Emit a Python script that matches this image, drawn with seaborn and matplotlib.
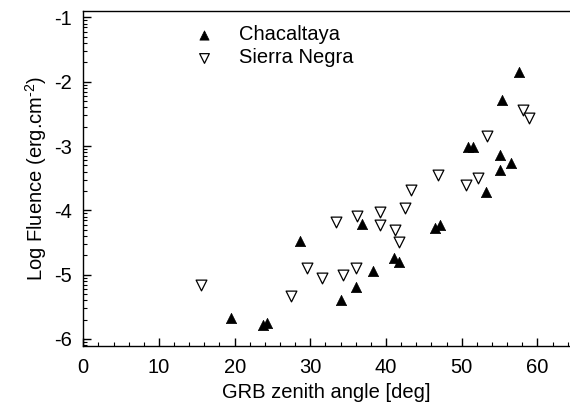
import numpy as np
import pandas as pd
import seaborn as sns
import matplotlib.pyplot as plt
from matplotlib.ticker import FixedLocator, MultipleLocator

# Chacaltaya (filled up-triangles)
chac_angle = [19.5, 23.8, 24.3, 28.6, 34.1, 36.0, 36.8, 38.3, 41.0, 41.7,
              46.5, 47.1, 50.8, 51.5, 53.2, 55.1, 55.1, 56.5, 55.3, 57.6]
chac_logf = [-5.68, -5.79, -5.76, -4.48, -5.40, -5.20, -4.21, -4.95, -4.74, -4.80,
             -4.27, -4.23, -3.01, -3.01, -3.71, -3.14, -3.37, -3.27, -2.29, -1.85]

# Sierra Negra (open down-triangles)
sn_angle = [15.6, 27.4, 29.5, 31.5, 33.4, 34.3, 36.0, 36.1, 39.2, 39.2,
            41.2, 41.7, 42.5, 43.3, 46.8, 50.6, 52.1, 53.4, 58.1, 58.9]
sn_logf = [-5.16, -5.33, -4.89, -5.06, -4.18, -5.00, -4.90, -4.09, -4.02, -4.23,
           -4.31, -4.50, -3.97, -3.69, -3.45, -3.61, -3.50, -2.84, -2.44, -2.57]

y_major = [-6, -5, -4, -3, -2, -1]
x_major = [0, 10, 20, 30, 40, 50, 60]

sns.set_style("ticks")
plt.rcParams['font.family'] = ['Liberation Sans', 'DejaVu Sans']
plt.rcParams['axes.unicode_minus'] = False
plt.rcParams['mathtext.fontset'] = 'custom'
plt.rcParams['mathtext.rm'] = 'Liberation Sans'
plt.rcParams['text.color'] = 'black'
plt.rcParams['axes.labelcolor'] = 'black'

fig = plt.figure(figsize=(5.7, 4.08), dpi=100)
ax = fig.add_axes([0.146, 0.152, 0.854, 0.821])

chac = pd.DataFrame({"angle": chac_angle, "logf": chac_logf})
sn = pd.DataFrame({"angle": sn_angle, "logf": sn_logf})

sns.scatterplot(data=chac, x="angle", y="logf", marker="^", s=55, color="black",
                edgecolor="black", linewidth=0.5, ax=ax, label="Chacaltaya", zorder=3)
sns.scatterplot(data=sn, x="angle", y="logf", marker="v", s=60, facecolor="white",
                edgecolor="black", linewidth=0.9, ax=ax, label="Sierra Negra", zorder=3)

ax.set_xlim(0, 64.3)
ax.set_ylim(-6.11, -0.90)
ax.xaxis.set_major_locator(FixedLocator(x_major))
ax.xaxis.set_minor_locator(MultipleLocator(2))
ax.yaxis.set_major_locator(FixedLocator(y_major))
# log-style minor ticks inside each decade
minor = [k + np.log10(m) for k in range(-7, -1) for m in range(2, 10)]
ax.yaxis.set_minor_locator(FixedLocator(minor))

ax.tick_params(which="both", direction="in", labelsize=14.5, colors="black")
ax.tick_params(which="major", length=6, width=1)
ax.tick_params(which="minor", length=3, width=0.8)
ax.tick_params(axis="x", pad=9)
ax.tick_params(axis="y", pad=8)

for side in ["left", "bottom", "top"]:
    ax.spines[side].set_linewidth(1.0)
    ax.spines[side].set_color("black")
ax.spines["right"].set_visible(False)

ax.set_xlabel("GRB zenith angle [deg]", fontsize=14.5, labelpad=4)
ax.set_ylabel(r"Log Fluence (erg.cm$^{\text{-2}}$)", fontsize=14.5, labelpad=4)

ax.legend(loc="upper left", bbox_to_anchor=(0.17, 1.012), frameon=False, fontsize=14.5,
          handletextpad=0.75, labelspacing=0.2, markerscale=0.9)

fig.savefig("out.png", dpi=100)
